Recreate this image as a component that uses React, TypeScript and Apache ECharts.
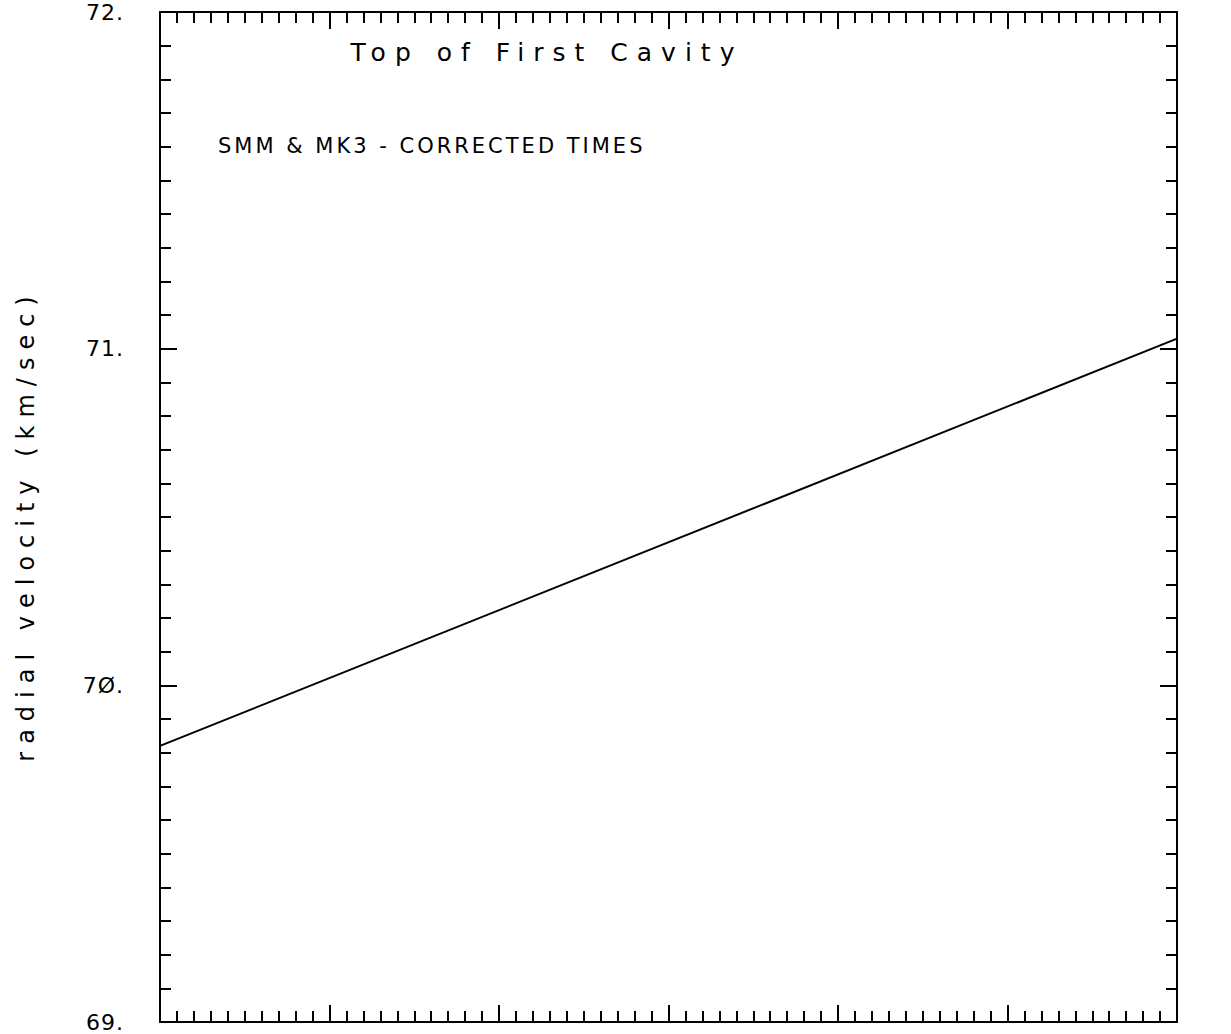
import React, { useEffect, useRef } from "react";
import * as echarts from "echarts";

// Data
const lineX = [0, 60];
const lineY = [69.82, 71.03];
const yTickValues = [69, 70, 71, 72];
const yTickLabels = ["69.", "7Ø.", "71.", "72."];
const titleText = "Top of First Cavity";
const noteText = "SMM & MK3 - CORRECTED TIMES";
const yAxisName = "radial velocity (km/sec)";

const FONT = "'DejaVu Sans', 'Liberation Sans', sans-serif";

export default function App() {
  const ref = useRef<HTMLDivElement>(null);
  useEffect(() => {
    if (!ref.current) return;
    const chart = echarts.init(ref.current, undefined, { renderer: "svg" });
    const axisCommon = (pos: string) => ({
      position: pos,
      min: 0,
      max: 60,
      interval: 10,
      axisLine: { show: true, onZero: false, lineStyle: { color: "#000", width: 2 } },
      axisTick: { show: true, inside: true, length: 17, lineStyle: { color: "#000", width: 2 } },
      minorTick: { show: true, splitNumber: 10, length: 11, lineStyle: { color: "#000", width: 2 } },
      axisLabel: { show: false },
      splitLine: { show: false },
    });
    const yCommon = (pos: string, showLabel: boolean) => ({
      type: "value",
      position: pos,
      min: 69,
      max: 72,
      interval: 1,
      axisLine: { show: true, onZero: false, lineStyle: { color: "#000", width: 2 } },
      axisTick: { show: true, inside: true, length: 17, lineStyle: { color: "#000", width: 2 } },
      minorTick: { show: true, splitNumber: 10, length: 11, lineStyle: { color: "#000", width: 2 } },
      splitLine: { show: false },
      axisLabel: {
        show: showLabel,
        showMinLabel: true,
        showMaxLabel: true,
        margin: 36,
        color: "#000",
        fontSize: 22,
        lineHeight: 20,
        fontFamily: "DejaVu Sans",
        formatter: (v: number) => {
          const i = yTickValues.indexOf(Math.round(v));
          return i >= 0 ? yTickLabels[i] : "";
        },
      },
    });
    chart.setOption({
      animation: false,
      backgroundColor: "#fff",
      grid: { left: 160, right: 54, top: 12, bottom: 12 },
      xAxis: [
        { type: "value", ...axisCommon("bottom") },
        { type: "value", ...axisCommon("top") },
      ],
      yAxis: [yCommon("left", true), yCommon("right", false)],
      graphic: [
        {
          type: "text",
          x: 547,
          y: 52,
          style: {
            text: titleText,
            fill: "#000",
            font: `25px ${FONT}`,
            align: "center",
            verticalAlign: "middle",
          },
        },
        {
          type: "text",
          x: 218,
          y: 146,
          style: {
            text: noteText,
            fill: "#000",
            font: `21px ${FONT}`,
            align: "left",
            verticalAlign: "middle",
          },
        },
        {
          type: "text",
          x: 26,
          y: 525,
          rotation: Math.PI / 2,
          style: {
            text: yAxisName,
            fill: "#000",
            font: `24px ${FONT}`,
            align: "center",
            verticalAlign: "middle",
          },
        },
      ],
      series: [
        {
          type: "line",
          xAxisIndex: 0,
          yAxisIndex: 0,
          data: lineX.map((x, i) => [x, lineY[i]]),
          showSymbol: false,
          lineStyle: { color: "#000", width: 2 },
        },
      ],
    });
    // widen letter spacing to mimic plotter lettering
    const spacing: Record<string, string> = {
      [titleText]: "9px",
      [noteText]: "3px",
      [yAxisName]: "8px",
    };
    ref.current.querySelectorAll("text").forEach((t) => {
      const s = spacing[t.textContent || ""];
      if (s) (t as SVGTextElement).style.letterSpacing = s;
      else if (yTickLabels.includes(t.textContent || "")) (t as SVGTextElement).style.letterSpacing = "1px";
    });
    return () => chart.dispose();
  }, []);
  return (
    <div
      ref={ref}
      style={{ position: "fixed", left: 0, top: 0, width: 1231, height: 1034, background: "#fff" }}
    />
  );
}
